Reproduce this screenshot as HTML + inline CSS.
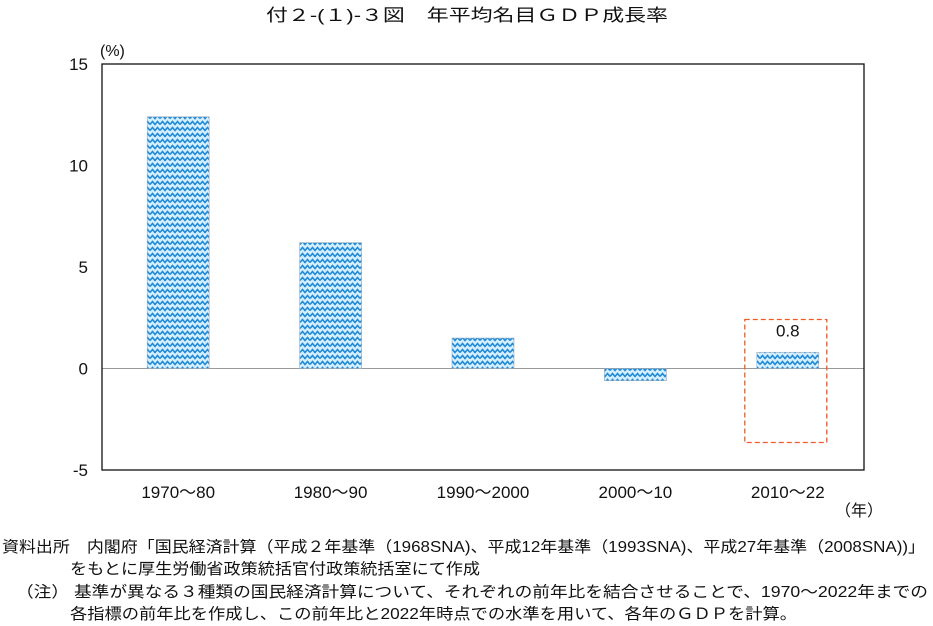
<!DOCTYPE html>
<html><head><meta charset="utf-8"><style>
body{margin:0;background:#fff;width:933px;height:626px;overflow:hidden;font-family:"Liberation Sans","Noto Sans CJK JP",sans-serif;color:#111}
svg text{font-family:"Liberation Sans","Noto Sans CJK JP",sans-serif;fill:#111}
</style></head><body>
<svg id="chart" width="933" height="626" style="position:absolute;left:0;top:0">
<defs>
<pattern id="wave" width="10" height="6" patternUnits="userSpaceOnUse">
<rect width="10" height="6" fill="#d6efff"/>
<path d="M0,4.5 L2.5,1.5 L5,4.5 L7.5,1.5 L10,4.5" fill="none" stroke="#1e8ad8" stroke-width="1.6"/>
</pattern>
</defs>
<text x="266" y="21" textLength="402" lengthAdjust="spacingAndGlyphs" font-size="17">付２-(１)-３図　年平均名目ＧＤＰ成長率</text>
<text x="2" y="552" textLength="923" lengthAdjust="spacingAndGlyphs" font-size="15.5">資料出所　内閣府「国民経済計算（平成２年基準（1968SNA)、平成12年基準（1993SNA)、平成27年基準（2008SNA))」</text>
<text x="70" y="574" textLength="410" lengthAdjust="spacingAndGlyphs" font-size="15.5">をもとに厚生労働省政策統括官付政策統括室にて作成</text>
<text x="16" y="597" textLength="912" lengthAdjust="spacingAndGlyphs" font-size="15.5">（注）  基準が異なる３種類の国民経済計算について、それぞれの前年比を結合させることで、1970～2022年までの</text>
<text x="70" y="619" textLength="727" lengthAdjust="spacingAndGlyphs" font-size="15.5">各指標の前年比を作成し、この前年比と2022年時点での水準を用いて、各年のＧＤＰを計算。</text>
<g id="plot"></g>
</svg>
<script>
const categories=["1970～80","1980～90","1990～2000","2000～10","2010～22"];
const values=[12.4,6.2,1.5,-0.6,0.8];
const yTicks=[15,10,5,0,-5];
const NS="http://www.w3.org/2000/svg";
const L=102,R=864,T=64,B=470,yMin=-5,yMax=15;
const y=v=>T+(yMax-v)/(yMax-yMin)*(B-T);
const bw=(R-L)/categories.length;
const x=i=>L+bw*(i+0.5);
const g=document.getElementById('plot');
function mk(tag,attrs,txt){const e=document.createElementNS(NS,tag);for(const k in attrs)e.setAttribute(k,attrs[k]);if(txt!=null)e.textContent=txt;g.appendChild(e);return e;}
let e=mk('line',{x1:L,x2:R,y1:y(0),y2:y(0),stroke:'#999','stroke-width':1});


yTicks.forEach(t=>{const tx=mk('text',{x:88,y:y(t)+6,'text-anchor':'end','font-size':17},String(t));

});
categories.forEach((c,i)=>{
const v=values[i];
const r=mk('rect',{x:x(i)-31,y:Math.min(y(v),y(0)),width:62,height:Math.abs(y(v)-y(0)),fill:'url(#wave)',stroke:'#9ab','stroke-width':0.6});


const t=mk('text',{x:x(i),y:498,'text-anchor':'middle','font-size':17},c);


});
const last=values.length-1;
const hb=mk('rect',{x:x(last)-43,y:y(0)-49,width:82,height:123,fill:'none',stroke:'#f05a28','stroke-width':1.3,'stroke-dasharray':'5,3'});


const vl=mk('text',{x:x(last),y:y(values[last])-16,'text-anchor':'middle','font-size':17},values[last].toFixed(1));


const fr=mk('rect',{x:L,y:T,width:R-L,height:B-T,fill:'none',stroke:'#111','stroke-width':1.3});


const yu=mk('text',{x:100,y:56,'font-size':16},'(%)');


const xu=mk('text',{x:835,y:516,'font-size':16},'（年）');


</script>
</body></html>
